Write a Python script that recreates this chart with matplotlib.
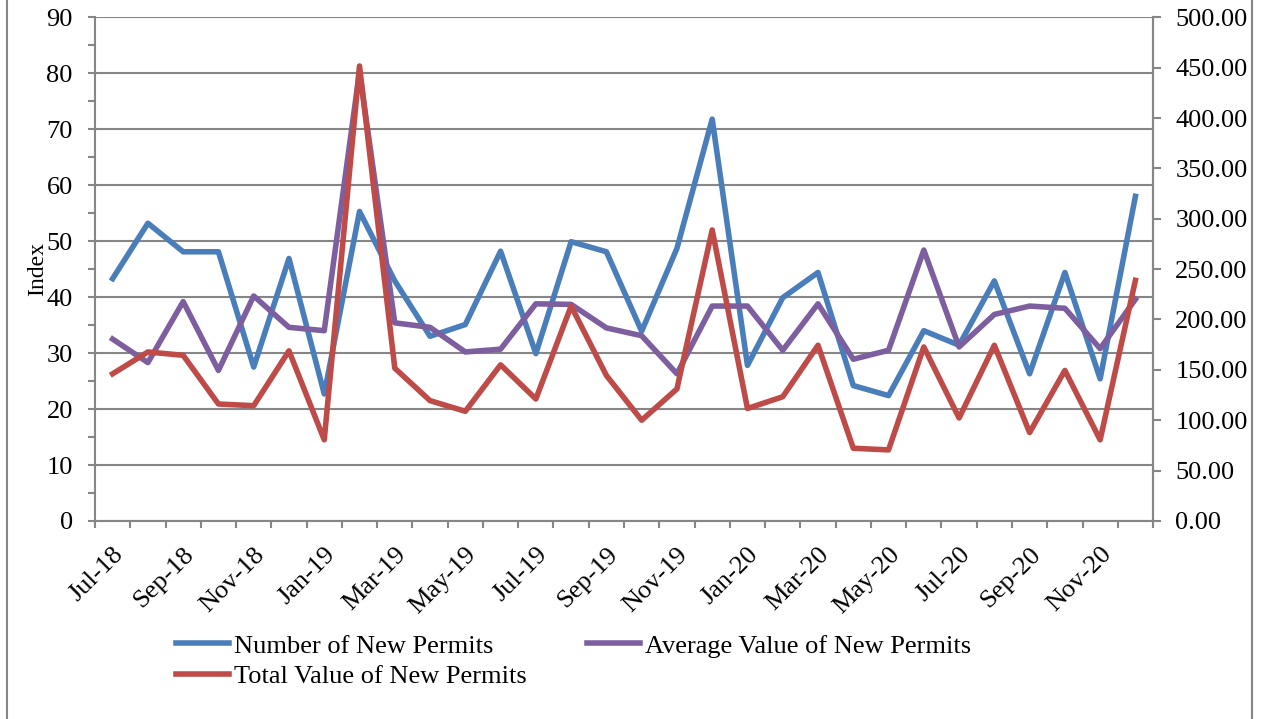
import numpy as np
import matplotlib.pyplot as plt
from matplotlib.lines import Line2D
from matplotlib.ticker import MultipleLocator, FormatStrFormatter

plt.rcParams['font.family'] = ['Liberation Serif', 'DejaVu Serif']

months = ['Jul-18', 'Aug-18', 'Sep-18', 'Oct-18', 'Nov-18', 'Dec-18',
          'Jan-19', 'Feb-19', 'Mar-19', 'Apr-19', 'May-19', 'Jun-19',
          'Jul-19', 'Aug-19', 'Sep-19', 'Oct-19', 'Nov-19', 'Dec-19',
          'Jan-20', 'Feb-20', 'Mar-20', 'Apr-20', 'May-20', 'Jun-20',
          'Jul-20', 'Aug-20', 'Sep-20', 'Oct-20', 'Nov-20', 'Dec-20']

number_permits = [43.3, 53.2, 48.1, 48.1, 27.5, 46.9, 22.7, 55.3, 42.9, 33.0,
                  35.1, 48.2, 29.9, 49.9, 48.1, 33.9, 48.7, 71.8, 27.8, 39.9,
                  44.4, 24.2, 22.4, 34.0, 31.4, 42.9, 26.3, 44.4, 25.4, 58.0]

average_value = [32.5, 28.3, 39.2, 26.9, 40.2, 34.6, 34.0, 80.3, 35.4, 34.6,
                 30.2, 30.7, 38.8, 38.7, 34.5, 33.1, 26.3, 38.4, 38.4, 30.5,
                 38.8, 28.9, 30.5, 48.4, 31.1, 36.9, 38.4, 38.0, 30.8, 39.6]

total_value = [26.3, 30.2, 29.6, 20.9, 20.6, 30.4, 14.5, 81.3, 27.3, 21.5,
               19.6, 27.9, 21.8, 38.4, 26.0, 18.0, 23.6, 52.0, 20.1, 22.2,
               31.4, 13.0, 12.7, 31.1, 18.4, 31.4, 15.8, 26.9, 14.5, 43.0]

grey = '#868686'
blue = '#4A7EBB'
purple = '#7D5FA0'
red = '#BE4B48'

fig = plt.figure(figsize=(12.65, 7.19), dpi=100)
ax = fig.add_axes([0.0751, 0.2754, 0.8364, 0.7006])

x = np.arange(len(months))
l1, = ax.plot(x, number_permits, color=blue, lw=4, solid_joinstyle='round', zorder=3)
l2, = ax.plot(x, average_value, color=purple, lw=4, solid_joinstyle='round', zorder=4)
l3, = ax.plot(x, total_value, color=red, lw=4, solid_joinstyle='round', zorder=5)

ax.set_xlim(-0.5, len(months) - 0.5)
ax.set_ylim(0, 90)
ax.yaxis.set_major_locator(MultipleLocator(10))
ax.yaxis.set_minor_locator(MultipleLocator(5))
ax.grid(axis='y', color=grey, lw=1.5)
ax.set_axisbelow(True)

# labels every second month, tick marks between categories
ax.set_xticks(x[::2])
ax.set_xticklabels(months[::2], rotation=45, ha='right', rotation_mode='anchor', fontsize=19)
ax.set_xticks(np.arange(-0.5, len(months)), minor=True)
ax.tick_params(axis='x', which='major', length=0, pad=16)
ax.tick_params(axis='x', which='minor', length=5, width=1.5, color=grey, direction='out')
ax.tick_params(axis='y', which='both', length=5, width=1.5, color=grey, labelsize=19, pad=11)

ax.spines['top'].set_visible(False)
for s in ['left', 'bottom', 'right']:
    ax.spines[s].set_color(grey)
    ax.spines[s].set_linewidth(1.5)

ax.set_ylabel('Index', fontsize=17, labelpad=-1)

ax2 = ax.twinx()
ax2.set_ylim(0, 500)
ax2.yaxis.set_major_locator(MultipleLocator(50))
ax2.yaxis.set_major_formatter(FormatStrFormatter('%.2f'))
ax2.tick_params(axis='y', length=6, width=1.5, color=grey, labelsize=19, pad=10)
for s in ['top', 'left', 'bottom']:
    ax2.spines[s].set_visible(False)
ax2.spines['right'].set_color(grey)
ax2.spines['right'].set_linewidth(1.5)

fig.legend([l1, l3, l2],
           ['Number of New Permits', 'Total Value of New Permits', 'Average Value of New Permits'],
           ncol=2, loc='upper left', bbox_to_anchor=(0.139, 0.118), frameon=False,
           fontsize=19, handlelength=2.0, handletextpad=0.2, columnspacing=2.3,
           labelspacing=0.27, borderpad=0, borderaxespad=0)

# chart frame
fig.add_artist(Line2D([7 / 1265, 7 / 1265], [0, 1], color=grey, lw=1.5))
fig.add_artist(Line2D([1252 / 1265, 1252 / 1265], [0, 1], color=grey, lw=1.5))

fig.savefig('out.png', dpi=100)
